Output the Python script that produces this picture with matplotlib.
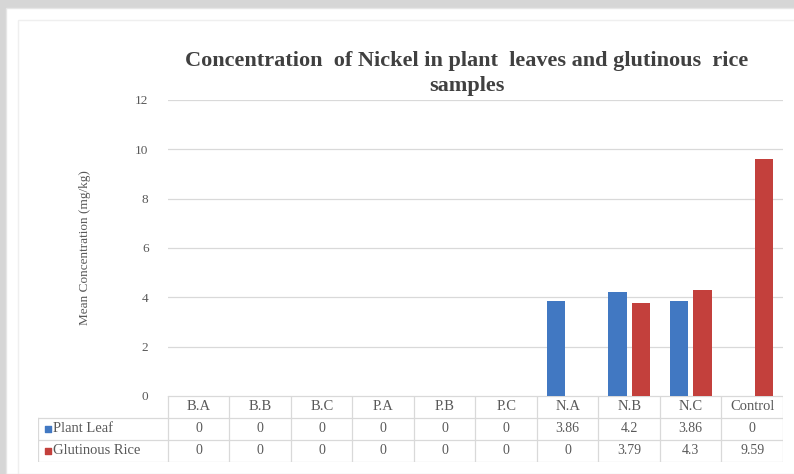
import numpy as np
import matplotlib
matplotlib.use("Agg")
import matplotlib.pyplot as plt
from matplotlib.patches import Rectangle

# data
categories = ["B.A", "B.B", "B.C", "P.A", "P.B", "P.C", "N.A", "N.B", "N.C", "Control"]
plant_leaf = [0, 0, 0, 0, 0, 0, 3.86, 4.2, 3.86, 0]
glutinous_rice = [0, 0, 0, 0, 0, 0, 0, 3.79, 4.3, 9.59]
plant_leaf_txt = ["0", "0", "0", "0", "0", "0", "3.86", "4.2", "3.86", "0"]
glutinous_txt = ["0", "0", "0", "0", "0", "0", "0", "3.79", "4.3", "9.59"]
series_names = ["Plant Leaf", "Glutinous Rice"]
y_ticks = [0, 2, 4, 6, 8, 10, 12]

BLUE = "#4178c2"
RED = "#c3403c"
TXT = "#595959"
GRID = "#d9d9d9"
SERIF = "Liberation Serif"

W, H = 794, 474
fig = plt.figure(figsize=(W / 100, H / 100), dpi=100)
fig.patch.set_facecolor("#d6d6d6")


def px(x0, y0, x1, y1):
    # pixel box (top-left origin) -> figure fraction rect
    return [x0 / W, 1 - y1 / H, (x1 - x0) / W, (y1 - y0) / H]


# white chart card (behind the axes) + faint inner frame
fig.patches.append(Rectangle((6 / W, 0), 1, 1 - 8 / H, transform=fig.transFigure,
                             facecolor="white", edgecolor="#e6e6e6", lw=1, zorder=-5))
fig.patches.append(Rectangle((18 / W, -0.1), 1, 1.1 - 20 / H, transform=fig.transFigure,
                             facecolor="none", edgecolor="#efefef", lw=1, zorder=-4))

# bar chart area
col0, colw = 168, 61.5
n = len(categories)
x_right = col0 + n * colw
ax = fig.add_axes(px(col0, 100, x_right, 396))
ax.patch.set_alpha(0)
x = np.arange(n)
bw = 0.3
ax.bar(x - 0.19, plant_leaf, bw, color=BLUE, zorder=3)
ax.bar(x + 0.19, glutinous_rice, bw, color=RED, zorder=3)
ax.set_xlim(-0.5, n - 0.5)
ax.set_ylim(0, 12)
ax.set_yticks(y_ticks)
ax.set_yticklabels([str(t) for t in y_ticks], fontfamily=SERIF, fontsize=9.5, color=TXT)
ax.tick_params(axis="y", length=0, pad=14)
ax.set_xticks([])
for s in ax.spines.values():
    s.set_visible(False)
ax.grid(axis="y", color=GRID, lw=0.9, zorder=0)
ax.set_ylabel("Mean Concentration (mg/kg)", fontfamily=SERIF, fontsize=9.5, color=TXT, labelpad=32)

fig.text(467 / W, 1 - 61 / H, "Concentration  of Nickel in plant  leaves and glutinous  rice",
         ha="center", va="center", fontfamily=SERIF, fontsize=16, fontweight="bold", color="#404040")
fig.text(467 / W, 1 - 86 / H, "samples",
         ha="center", va="center", fontfamily=SERIF, fontsize=16, fontweight="bold", color="#404040")

# data table under the chart
lab_left = 38
lab_w = (col0 - lab_left) / colw
tx = fig.add_axes(px(lab_left, 396, x_right, 462))
tx.set_xlim(-0.5 - lab_w, n - 0.5)
tx.set_ylim(0, 3)
tx.axis("off")

# grid lines of the table
for i in range(n + 1):
    tx.plot([i - 0.5, i - 0.5], [0, 3], color=GRID, lw=0.9)
tx.plot([-0.5 - lab_w, -0.5 - lab_w], [0, 2], color=GRID, lw=0.9)
tx.plot([-0.5, n - 0.5], [3, 3], color=GRID, lw=0.9)
for yy in [0, 1, 2]:
    tx.plot([-0.5 - lab_w, n - 0.5], [yy, yy], color=GRID, lw=0.9)

for i, c in enumerate(categories):
    tx.text(i, 2.5, c, ha="center", va="center", fontfamily=SERIF, fontsize=10.5, color=TXT)
    tx.text(i, 1.5, plant_leaf_txt[i], ha="center", va="center", fontfamily=SERIF, fontsize=10, color=TXT)
    tx.text(i, 0.5, glutinous_txt[i], ha="center", va="center", fontfamily=SERIF, fontsize=10, color=TXT)

lx = -0.5 - lab_w + 0.16
for yy, name, col in zip([1.5, 0.5], series_names, [BLUE, RED]):
    tx.scatter([lx], [yy], marker="s", s=22, color=col, clip_on=False)
    tx.text(lx + 0.08, yy, name, ha="left", va="center", fontfamily=SERIF, fontsize=10.5, color=TXT)

fig.savefig("out.png", dpi=100, facecolor=fig.get_facecolor())
